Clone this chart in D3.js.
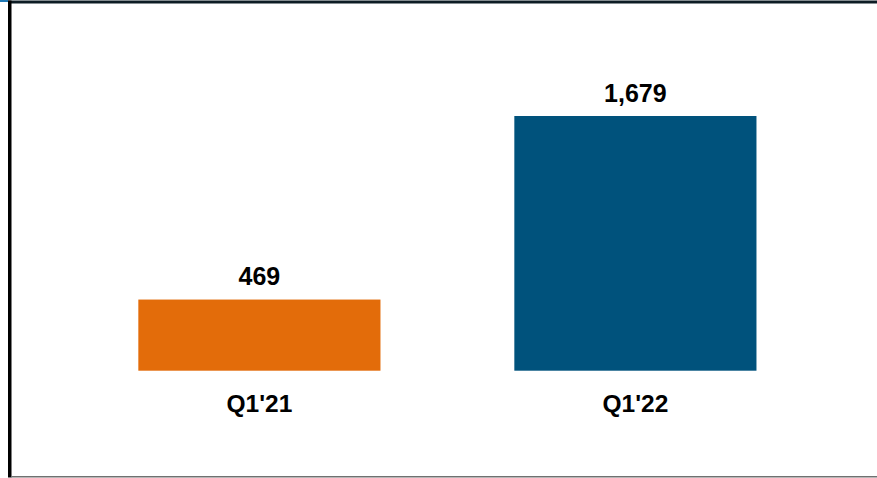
<!DOCTYPE html>
<html>
<head>
<meta charset="utf-8">
<script src="https://cdn.jsdelivr.net/npm/d3@7"></script>
<style>
  html, body { margin: 0; padding: 0; background: #ffffff; }
  svg { display: block; }
  text { font-family: "Liberation Sans", Arial, sans-serif; font-weight: bold; fill: #000; }
</style>
</head>
<body>
<svg id="chart" width="877" height="478"></svg>
<script>
// Quarterly values
const categories = ["Q1'21", "Q1'22"];
const values = [469, 1679];
const barColors = ["#e36c0a", "#00527c"];

const W = 877, H = 478;
const svg = d3.select("#chart");

// Frame lines around the slide panel
svg.append("rect").attr("x", 0).attr("y", 0).attr("width", 8).attr("height", 2).attr("fill", "#1f78b4");
svg.append("rect").attr("x", 8).attr("y", 0.5).attr("width", W - 8).attr("height", 3).attr("fill", "#0d1c24");
svg.append("rect").attr("x", 8).attr("y", 0.5).attr("width", 3.5).attr("height", H - 1).attr("fill", "#000");
svg.append("rect").attr("x", 11).attr("y", 476).attr("width", W - 11).attr("height", 1.5).attr("fill", "#707070");

const baseY = 370.7;
const x = d3.scaleBand()
  .domain(categories)
  .range([71.4, 823.4])
  .paddingInner(0.356)
  .paddingOuter(0.178);

const y = d3.scaleLinear()
  .domain([0, 1679])
  .range([baseY, 116]);

const fmt = d3.format(",");

const g = svg.append("g");

g.selectAll("rect.bar")
  .data(values)
  .join("rect")
  .attr("class", "bar")
  .attr("x", (d, i) => x(categories[i]))
  .attr("y", d => y(d))
  .attr("width", x.bandwidth())
  .attr("height", d => baseY - y(d))
  .attr("fill", (d, i) => barColors[i]);

// Value labels above bars
g.selectAll("text.value")
  .data(values)
  .join("text")
  .attr("class", "value")
  .attr("x", (d, i) => x(categories[i]) + x.bandwidth() / 2)
  .attr("y", d => y(d) - 14.5)
  .attr("text-anchor", "middle")
  .attr("font-size", 25)
  .text(d => fmt(d));

// Category axis labels
const axis = d3.axisBottom(x).tickSize(0).tickPadding(0);
const axisG = svg.append("g")
  .attr("transform", `translate(0,${baseY})`)
  .call(axis);
axisG.select(".domain").remove();
axisG.selectAll(".tick text")
  .attr("y", 41)
  .attr("dy", 0)
  .attr("font-size", 24.5)
  .attr("font-family", "Liberation Sans, Arial, sans-serif")
  .attr("font-weight", "bold")
  .attr("fill", "#000");
</script>
</body>
</html>
